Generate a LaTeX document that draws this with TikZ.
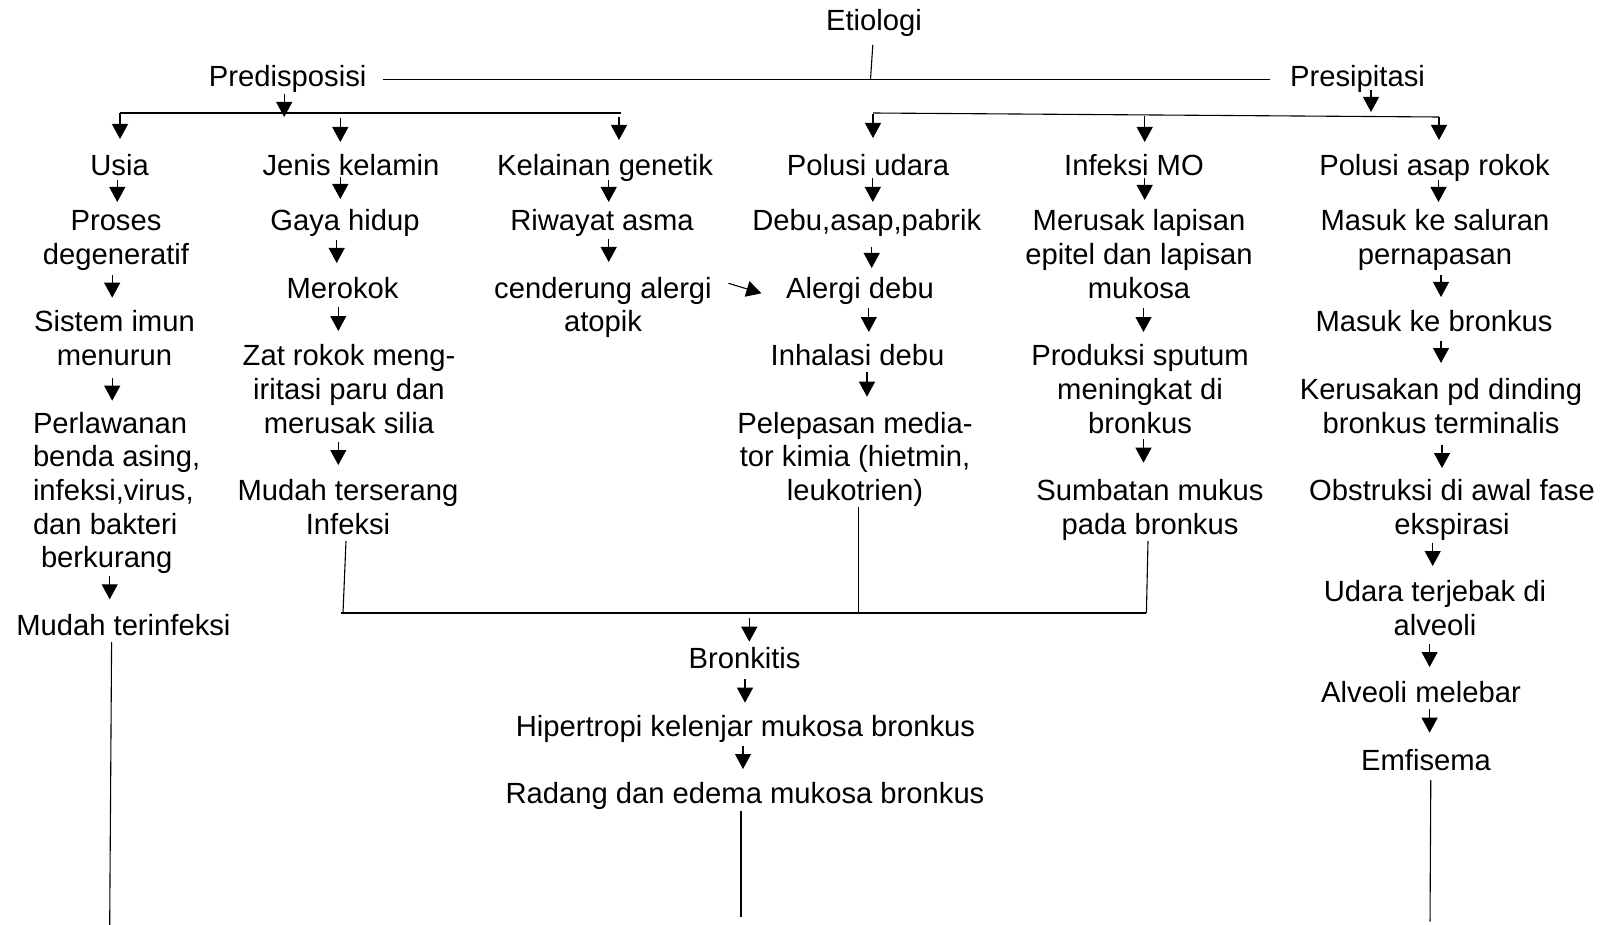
\documentclass[tikz,border=0pt]{standalone}
\usepackage{fontspec}
\setmainfont{Liberation Sans}
\usetikzlibrary{arrows.meta}
\newcommand\mystrut{\rule[-7pt]{0pt}{29pt}}
\newcommand\link[5]{\draw[arr,shorten <=#4,shorten >=#5] ([xshift=#3]#1.south) -- ([xshift=#3]#1.south |- #2.north);}
\begin{document}
\begin{tikzpicture}[x=1pt,y=-1pt,
  txt/.style={inner sep=0pt, outer sep=0pt, align=center, anchor=north, font=\fontsize{29.2pt}{33.7pt}\selectfont},
  ln/.style={line width=1.1pt},
  arr/.style={ln,-{Triangle[length=15pt,width=16pt]}}]
\fill[white] (0,0) rectangle (1603,925);
\useasboundingbox (0,0) rectangle (1603,925);

% header
\node[txt] (et) at (874,9) {\mystrut Etiologi\mystrut};
\node[txt] (pre) at (287.7,65) {\mystrut Predisposisi\mystrut};
\node[txt] (pres) at (1357.5,65) {\mystrut Presipitasi\mystrut};

% row 0
\node[txt] (usia) at (119.6,153.6) {\mystrut Usia\mystrut};
\node[txt] (jk) at (351,153.6) {\mystrut Jenis kelamin\mystrut};
\node[txt] (kg) at (605,153.6) {\mystrut Kelainan genetik\mystrut};
\node[txt] (pu) at (868,153.6) {\mystrut Polusi udara\mystrut};
\node[txt] (imo) at (1134,153.6) {\mystrut Infeksi MO\mystrut};
\node[txt] (par) at (1434.5,153.6) {\mystrut Polusi asap rokok\mystrut};

% column 1
\node[txt] (proses) at (116,208.8) {\mystrut Proses\\degeneratif\mystrut};
\node[txt] (sistem) at (114.5,309.9) {\mystrut Sistem imun\\menurun\mystrut};
\node[txt, anchor=north west, align=left] (perl) at (33,411) {\mystrut Perlawanan\\benda asing,\\infeksi,virus,\\dan bakteri\\\hspace*{8pt}berkurang\mystrut};
\node[txt] (mudahinf) at (123.4,613.2) {\mystrut Mudah terinfeksi\mystrut};

% column 2
\node[txt] (gaya) at (345,208.8) {\mystrut Gaya hidup\mystrut};
\node[txt] (merokok) at (342.5,276.2) {\mystrut Merokok\mystrut};
\node[txt] (zat) at (349,343.6) {\mystrut Zat rokok meng-\\iritasi paru dan\\merusak silia\mystrut};
\node[txt] (mudahser) at (348,478.4) {\mystrut Mudah terserang\\Infeksi\mystrut};

% column 3
\node[txt] (riwayat) at (602,208.8) {\mystrut Riwayat asma\mystrut};
\node[txt] (cend) at (603,276.2) {\mystrut cenderung alergi\\atopik\mystrut};

% column 4
\node[txt] (debu) at (866.8,208.8) {\mystrut Debu,asap,pabrik\mystrut};
\node[txt] (alergi) at (860,276.2) {\mystrut Alergi debu\mystrut};
\node[txt] (inhal) at (857.5,343.6) {\mystrut Inhalasi debu\mystrut};
\node[txt] (pelep) at (855,411) {\mystrut Pelepasan media-\\tor kimia (hietmin,\\leukotrien)\mystrut};

% column 5
\node[txt] (merusak) at (1139,208.8) {\mystrut Merusak lapisan\\epitel dan lapisan\\mukosa\mystrut};
\node[txt] (produksi) at (1140,343.6) {\mystrut Produksi sputum\\meningkat di\\bronkus\mystrut};
\node[txt] (sumbatan) at (1150,478.4) {\mystrut Sumbatan mukus\\pada bronkus\mystrut};

% column 6
\node[txt] (masuk1) at (1435,208.8) {\mystrut Masuk ke saluran\\pernapasan\mystrut};
\node[txt] (masuk2) at (1434,309.9) {\mystrut Masuk ke bronkus\mystrut};
\node[txt] (kerusakan) at (1441,377.3) {\mystrut Kerusakan pd dinding\\bronkus terminalis\mystrut};
\node[txt] (obstruksi) at (1452,478.4) {\mystrut Obstruksi di awal fase\\ekspirasi\mystrut};
\node[txt] (udara) at (1435,579.5) {\mystrut Udara terjebak di\\alveoli\mystrut};
\node[txt] (alveoli) at (1421,680.6) {\mystrut Alveoli melebar\mystrut};
\node[txt] (emfisema) at (1426,748) {\mystrut Emfisema\mystrut};

% centre
\node[txt] (bronkitis) at (744.6,646.9) {\mystrut Bronkitis\mystrut};
\node[txt] (hiper) at (745.5,714.3) {\mystrut Hipertropi kelenjar mukosa bronkus\mystrut};
\node[txt] (radang) at (745,781.7) {\mystrut Radang dan edema mukosa bronkus\mystrut};

% helper coordinates
\coordinate (pl) at (120,113);
\coordinate (pr) at (621,113);
\coordinate (ql) at (873,113);
\coordinate (qr) at (1439,117);
\coordinate (bl) at (343,613);
\coordinate (br) at (1146.4,613);
\coordinate (bot) at (0,925);

% header connectors
\draw[ln] ([xshift=17pt]pre.east) -- ([xshift=-20pt]pres.west);
\draw[ln] ([shift={(-1.2,7)}]et.south) -- ([xshift=-3.5pt]et.south |- pre.east);
\draw[arr,shorten >=-4pt] ([xshift=-3.5pt]pre.south) -- ([xshift=-3.5pt]pre.south |- pl);
\draw[ln] (pl) -- (pr);
\draw[arr,shorten >=14.6pt] (pl) -- (pl |- usia.north);
\draw[arr,shorten <=5pt,shorten >=11.6pt] ([xshift=-10.7pt]jk.north |- pl) -- ([xshift=-10.7pt]jk.north);
\draw[arr,shorten <=4pt,shorten >=13.6pt] ([xshift=-2pt]pr) -- ([xshift=-2pt]pr |- kg.north);

\draw[arr,shorten <=-4pt,shorten >=1pt] ([xshift=13.5pt]pres.south) -- ([xshift=13.5pt]pres.south |- ql);
\draw[ln] (ql) -- (qr);
\draw[arr,shorten <=1pt,shorten >=15.6pt] (ql) -- (ql |- pu.north);
\draw[arr,shorten <=3pt,shorten >=11.6pt] ([xshift=10.7pt]imo.north |- ql) -- ([xshift=10.7pt]imo.north);
\draw[arr,shorten >=13.6pt] (qr) -- (qr |- par.north);

% chains
\link{usia}{proses}{-2.3pt}{-2.6pt}{6.8pt}
\link{proses}{sistem}{-3.8pt}{3.5pt}{12.2pt}
\link{sistem}{perl}{-2.3pt}{5.7pt}{10.3pt}
\draw[arr,shorten <=1.2pt,shorten >=13.9pt] ([xshift=-13.7pt]mudahinf.north |- perl.south) -- ([xshift=-13.7pt]mudahinf.north);

\link{jk}{gaya}{-10.7pt}{-5.6pt}{9.8pt}
\link{gaya}{merokok}{-8.3pt}{2.2pt}{13.2pt}
\link{merokok}{zat}{-4.2pt}{1.8pt}{12.6pt}
\link{zat}{mudahser}{-10.7pt}{1.7pt}{13.4pt}

\link{kg}{riwayat}{3.7pt}{-2.6pt}{6.8pt}
\link{riwayat}{cend}{6.7pt}{1.2pt}{14.2pt}
\draw[arr] ([shift={(16.7,7.1)}]cend.north east) -- ([shift={(-24.7,17.1)}]alergi.north west);

\link{pu}{debu}{4.8pt}{-4.6pt}{6.8pt}
\link{debu}{alergi}{4.9pt}{9.2pt}{8.2pt}
\link{alergi}{inhal}{8.8pt}{2.8pt}{11.6pt}
\link{inhal}{pelep}{9.5pt}{-0.9pt}{14.3pt}

\link{imo}{merusak}{10.7pt}{-4.6pt}{8.8pt}
\link{merusak}{produksi}{4.5pt}{2.8pt}{11.6pt}
\link{produksi}{sumbatan}{3.5pt}{-1pt}{15.7pt}

\link{par}{masuk1}{4pt}{-2.6pt}{6.8pt}
\link{masuk1}{masuk2}{6pt}{3.5pt}{12.9pt}
\link{masuk2}{kerusakan}{7pt}{1.8pt}{14.3pt}
\link{kerusakan}{obstruksi}{1pt}{5pt}{10.4pt}
\link{obstruksi}{udara}{-19.3pt}{1.6pt}{13.5pt}
\link{udara}{alveoli}{-5.4pt}{2.1pt}{13.6pt}
\link{alveoli}{emfisema}{8.6pt}{-0.6pt}{15.3pt}

\link{bronkitis}{hiper}{0.4pt}{3.1pt}{11.6pt}
\link{hiper}{radang}{-2.5pt}{2.7pt}{12.7pt}

% merge bracket
\draw[ln] ([xshift=-2pt]mudahser.south) -- (bl);
\draw[ln] ([xshift=3.4pt]pelep.south) -- ([xshift=3.4pt]pelep.south |- bl);
\draw[ln] ([xshift=-2pt]sumbatan.south) -- (br);
\draw[ln] ([xshift=-2pt]bl) -- (br);
\draw[arr,shorten <=5pt,shorten >=5.2pt] ([xshift=4.7pt]bronkitis.north |- bl) -- ([xshift=4.7pt]bronkitis.north);

% bottom lines
\draw[ln] ([xshift=-11.8pt]mudahinf.south) -- ([xshift=-13.7pt]mudahinf.south |- bot);
\draw[ln,shorten >=8.3pt] ([xshift=-4pt]radang.south) -- ([xshift=-4pt]radang.south |- bot);
\draw[ln,shorten <=3pt,shorten >=3.3pt] ([xshift=4.8pt]emfisema.south) -- ([xshift=4pt]emfisema.south |- bot);
\end{tikzpicture}
\end{document}
